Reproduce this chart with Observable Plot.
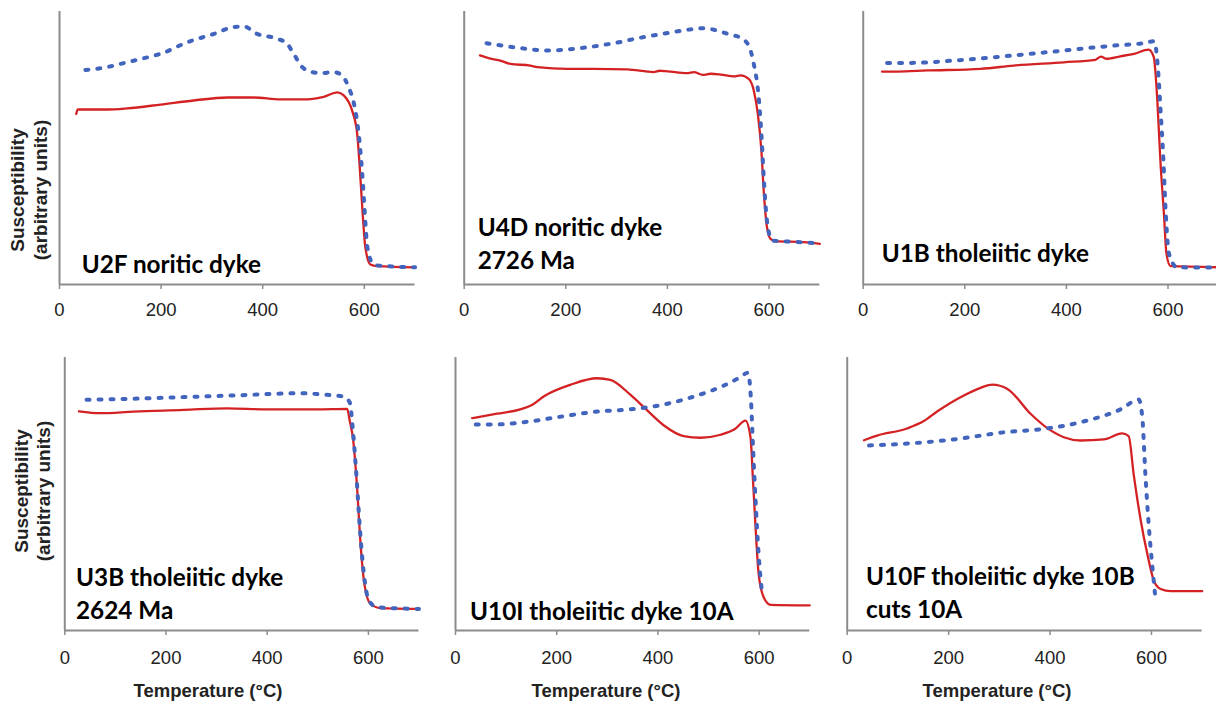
<!DOCTYPE html>
<html>
<head>
<meta charset="utf-8">
<script src="https://cdn.jsdelivr.net/npm/d3@7"></script>
<script src="https://cdn.jsdelivr.net/npm/@observablehq/plot@0.6"></script>
<style>
  html, body { margin: 0; padding: 0; background: #fff; }
  body { width: 1216px; height: 704px; overflow: hidden; position: relative; }
  .panel { position: absolute; }
  #overlay { position: absolute; left: 0; top: 0; pointer-events: none; }
</style>
</head>
<body>
<div id="root"></div>
<script>
// ---------- data (temperature in °C, susceptibility in arbitrary units) ----------
const xTicks = [0, 200, 400, 600];

const u2fHeatT = [33, 36, 94, 133, 199, 264, 330, 382, 435, 488, 520, 547, 560, 576, 586, 591, 596, 602, 612, 625, 700];
const u2fHeatK = [62.5, 64.1, 64.1, 64.5, 65.9, 67.4, 68.5, 68.5, 67.8, 67.8, 68.7, 70.4, 69.2, 63.7, 55.2, 43, 28.3, 13.7, 7.3, 6.7, 6.3];
const u2fCoolT = [51, 81, 133, 179, 199, 251, 304, 343, 363, 389, 429, 448, 461, 478, 494, 514, 540, 556, 569, 581, 589, 596, 601, 606, 619, 645, 700];
const u2fCoolK = [78.6, 79.2, 81.4, 83.5, 84.5, 88.7, 91.8, 94.3, 94.5, 91.8, 90, 88.2, 84.5, 79.6, 78, 77.4, 77.8, 76.6, 72.3, 65, 55.2, 40.5, 25.9, 13.7, 7.2, 6.7, 6.3];

const u4dHeatT = [31, 52, 71, 91, 130, 144, 203, 255, 321, 373, 385, 400, 439, 452, 470, 485, 505, 531, 544, 560, 570, 578, 585, 590, 596, 603, 613, 668, 700];
const u4dHeatK = [83.9, 82.7, 82, 80.8, 80.2, 79.6, 79, 79, 78.8, 77.8, 78.3, 78.1, 77.4, 77.8, 76.8, 77.2, 76.9, 76.2, 76.6, 75.3, 71.1, 62.5, 49.1, 33.2, 21, 16.7, 15.9, 15.5, 14.9];
const u4dCoolT = [44, 85, 124, 163, 203, 242, 295, 347, 400, 439, 472, 498, 524, 544, 560, 570, 579, 585, 590, 596, 606, 623, 700];
const u4dCoolK = [88.4, 87.2, 86.3, 85.7, 86.1, 86.9, 88.4, 90.4, 92.1, 93.3, 93.9, 93, 91.5, 90.4, 87.5, 80.8, 69.9, 55.2, 38.1, 23.4, 16.1, 15.9, 15.1];

const u1bHeatT = [37, 67, 126, 231, 296, 395, 457, 468, 479, 506, 533, 562, 572, 579, 585, 592, 597, 605, 700];
const u1bHeatK = [78, 78, 78.4, 79, 80.2, 81.4, 82.3, 83.5, 82.7, 83.6, 84.5, 86, 83.3, 67.4, 45.4, 25.9, 11.2, 6.7, 6.3];
const u1bCoolT = [47, 100, 198, 296, 395, 493, 552, 573, 580, 585, 591, 595, 602, 618, 700];
const u1bCoolK = [81.1, 81.2, 82.3, 83.9, 85.7, 87.5, 88.4, 89.1, 79.6, 65, 45.4, 28.3, 11.2, 6.3, 6.2];

const u3bHeatT = [28, 71, 136, 235, 321, 400, 499, 558, 563, 570, 578, 584, 592, 604, 624, 700];
const u3bHeatK = [80.3, 79.6, 80.2, 80.8, 81.4, 81, 81, 81.2, 76.9, 69.6, 51.3, 33, 17.1, 9.8, 8.2, 7.9];
const u3bCoolT = [43, 136, 235, 334, 466, 512, 551, 563, 570, 577, 583, 591, 601, 617, 700];
const u3bCoolK = [84.5, 84.9, 85.5, 86.1, 86.9, 86.4, 85.7, 83.6, 72, 54.9, 37.8, 20.8, 11, 8.5, 7.9];

const u10iHeatT = [33, 82, 128, 152, 175, 227, 280, 306, 346, 379, 412, 451, 484, 524, 553, 573, 583, 588, 593, 599, 609, 623, 700];
const u10iHeatK = [77.8, 79.4, 81, 82.7, 85.8, 90, 92.4, 91.8, 86.3, 80.6, 75.1, 71.2, 70.6, 71.7, 73.9, 76.9, 70.8, 54.9, 37.8, 20.8, 12.2, 9.4, 9.2];
const u10iCoolT = [40, 82, 148, 214, 280, 346, 412, 478, 530, 563, 578, 584, 588, 593, 599, 606];
const u10iCoolK = [75.5, 75.5, 76.6, 78.5, 80.2, 81, 82.8, 86.1, 89.7, 92.8, 94.4, 84.2, 67.1, 47.6, 28.1, 13.4];

const u10fHeatT = [33, 59, 118, 151, 178, 230, 263, 286, 316, 362, 394, 427, 460, 506, 542, 555, 565, 578, 592, 605, 618, 638, 700];
const u10fHeatK = [69.7, 71.4, 74, 76.7, 80.3, 86.1, 88.9, 90.1, 88.5, 79.3, 74.2, 70.8, 69.6, 70, 72.2, 71.2, 57.1, 41.2, 27.8, 18.1, 15.2, 14.4, 14.4];
const u10fCoolT = [43, 112, 210, 309, 394, 473, 539, 575, 582, 588, 595, 602, 608];
const u10fCoolK = [67.8, 68.4, 70, 72.6, 74, 76.9, 81, 84.6, 77.9, 57.1, 37.6, 22.9, 11.4];

const panelTitles = [
  ["U2F noritic dyke"],
  ["U4D noritic dyke", "2726 Ma"],
  ["U1B tholeiitic dyke"],
  ["U3B tholeiitic dyke", "2624 Ma"],
  ["U10I tholeiitic dyke 10A"],
  ["U10F tholeiitic dyke 10B", "cuts 10A"]
];
const yLabelLines = ["Susceptibility", "(arbitrary units)"];
const xLabel = "Temperature (°C)";

// ---------- layout ----------
const series = [
  [u2fHeatT, u2fHeatK, u2fCoolT, u2fCoolK],
  [u4dHeatT, u4dHeatK, u4dCoolT, u4dCoolK],
  [u1bHeatT, u1bHeatK, u1bCoolT, u1bCoolK],
  [u3bHeatT, u3bHeatK, u3bCoolT, u3bCoolK],
  [u10iHeatT, u10iHeatK, u10iCoolT, u10iCoolK],
  [u10fHeatT, u10fHeatK, u10fCoolT, u10fCoolK]
];
const layout = [
  {left: 0,   top: 0,   width: 420, ml: 59,   mr: 5.4,  mt: 11, mb: 46, pad: 13},
  {left: 420, top: 0,   width: 410, ml: 43.7, mr: 10.7, mt: 11, mb: 46, pad: 13},
  {left: 830, top: 0,   width: 390, ml: 32.7, mr: 1.7,  mt: 11, mb: 46, pad: 13},
  {left: 0,   top: 340, width: 425, ml: 64.3, mr: 6.5,  mt: 17, mb: 40, pad: 15},
  {left: 430, top: 340, width: 390, ml: 25,   mr: 10.8, mt: 17, mb: 40, pad: 15},
  {left: 820, top: 340, width: 396, ml: 26.7, mr: 14.3, mt: 17, mb: 40, pad: 15}
];
const titlePos = [
  {x: 81.7, y: [273.3]},
  {x: 477.7, y: [236, 269]},
  {x: 881.7, y: [261.5]},
  {x: 76, y: [586, 619]},
  {x: 470, y: [620]},
  {x: 866, y: [585, 617.7]}
];
const yLabelPos = [{x: [24, 46.5], y: 190}, {x: [27.5, 50], y: 491}];
const xLabelPos = [{x: 208, y: 697}, {x: 606, y: 697}, {x: 997, y: 697}];

const RED = "#d42224";
const BLUE = "#4264bd";
const AXIS = "#8c8c8c";

const root = document.getElementById("root");

series.forEach(([hT, hK, cT, cK], i) => {
  const L = layout[i];
  const heat = hT.map((t, j) => ({t, k: hK[j]}));
  const cool = cT.map((t, j) => ({t, k: cK[j]}));
  const chart = Plot.plot({
    width: L.width,
    height: 330,
    marginLeft: L.ml,
    marginRight: L.mr,
    marginTop: L.mt,
    marginBottom: L.mb,
    style: {fontFamily: "'Liberation Sans', Arial, sans-serif", fontSize: "18.5px", background: "transparent", overflow: "visible"},
    x: {domain: [0, 700]},
    y: {domain: [0, 100], axis: null},
    marks: [
      Plot.ruleX([0], {stroke: AXIS, strokeWidth: 2}),
      Plot.ruleY([0], {stroke: AXIS, strokeWidth: 2}),
      Plot.axisX({ticks: xTicks, tickSize: 5, tickPadding: L.pad, fontSize: 18.5, stroke: AXIS, strokeWidth: 1.5, fill: "#222", label: null, tickFormat: d => String(d)}),
      Plot.line(heat, {x: "t", y: "k", stroke: RED, strokeWidth: 2.3, curve: "monotone-x"}),
      Plot.line(cool, {x: "t", y: "k", stroke: BLUE, strokeWidth: 4, strokeDasharray: "3,9", strokeLinecap: "round", curve: "monotone-x"})
    ]
  });
  chart.classList.add("panel");
  chart.style.left = L.left + "px";
  chart.style.top = L.top + "px";
  chart.style.position = "absolute";
  root.appendChild(chart);
});

// ---------- text overlay ----------
const svg = d3.select("body").append("svg")
  .attr("id", "overlay").attr("width", 1216).attr("height", 704);

panelTitles.forEach((lines, i) => {
  lines.forEach((line, j) => {
    svg.append("text")
      .attr("x", titlePos[i].x).attr("y", titlePos[i].y[j])
      .attr("font-family", "Lato, 'Open Sans', sans-serif")
      .attr("font-weight", 700).attr("font-size", 24.3).attr("fill", "#000")
      .text(line);
  });
});

yLabelPos.forEach(p => {
  yLabelLines.forEach((line, j) => {
    svg.append("text")
      .attr("transform", `translate(${p.x[j]},${p.y}) rotate(-90)`)
      .attr("text-anchor", "middle")
      .attr("font-family", "'Liberation Sans', Arial, sans-serif")
      .attr("font-weight", 700).attr("font-size", 19).attr("fill", "#222")
      .text(line);
  });
});

xLabelPos.forEach(p => {
  svg.append("text")
    .attr("x", p.x).attr("y", p.y)
    .attr("text-anchor", "middle")
    .attr("font-family", "'Liberation Sans', Arial, sans-serif")
    .attr("font-weight", 700).attr("font-size", 18.5).attr("fill", "#222")
    .text(xLabel);
});
</script>
</body>
</html>
